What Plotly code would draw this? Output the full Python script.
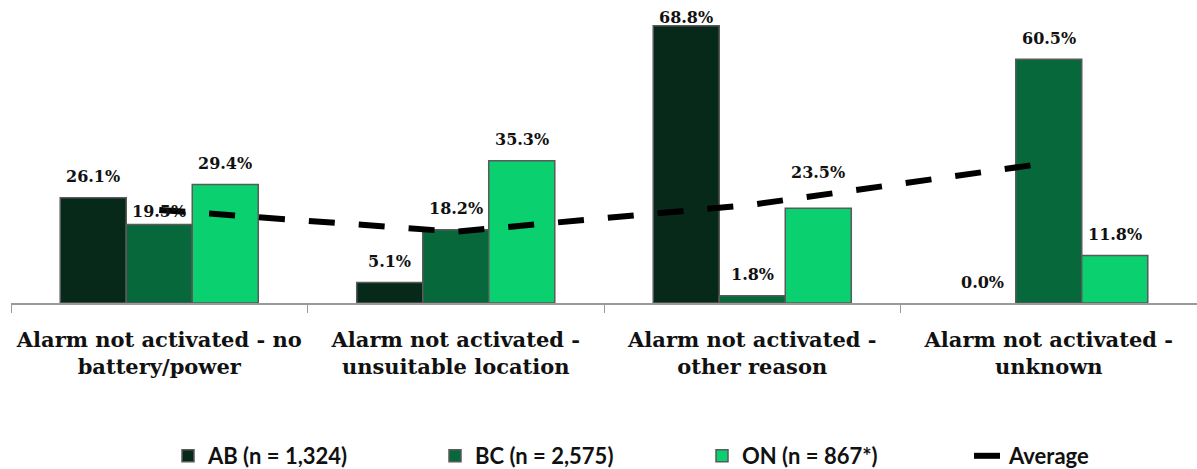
import plotly.graph_objects as go

categories = [
    "Alarm not activated - no<br>battery/power",
    "Alarm not activated -<br>unsuitable location",
    "Alarm not activated -<br>other reason",
    "Alarm not activated -<br>unknown",
]
series_names = ["AB (n = 1,324)", "BC (n = 2,575)", "ON (n = 867*)"]
ab_values = [26.1, 5.1, 68.8, 0.0]
bc_values = [19.5, 18.2, 1.8, 60.5]
on_values = [29.4, 35.3, 23.5, 11.8]
average_values = [23.1, 17.7, 24.4, 34.8]
average_name = "Average"

colors = ["#06291a", "#07683b", "#0bd070"]
x_shifts = [-66, 0, 66]
default_label_lift = 21
# manual label placement tweaks seen in the reference: (series index, category index) -> lift px
label_lift_overrides = {(1, 0): 13, (0, 2): 8, (2, 2): 36}

fig = go.Figure()
all_series = [ab_values, bc_values, on_values]
for i, (name, vals) in enumerate(zip(series_names, all_series)):
    outline_widths = [1.5 if v > 0 else 0 for v in vals]
    fig.add_trace(go.Bar(
        x=categories, y=vals, name=name,
        marker=dict(color=colors[i], line=dict(color="#5a5a5a", width=outline_widths)),
        cliponaxis=False,
    ))

fig.add_trace(go.Scatter(
    x=categories, y=average_values, name=average_name, mode="lines",
    line=dict(color="#000000", width=6, dash="26px,24px"),
))

annotations = []
for si, vals in enumerate(all_series):
    for ci, v in enumerate(vals):
        lift = label_lift_overrides.get((si, ci), default_label_lift)
        annotations.append(dict(
            x=categories[ci], y=v, xref="x", yref="y",
            text=f"{v:.1f}%", showarrow=False,
            xshift=x_shifts[si], yshift=lift, yanchor="middle",
            font=dict(family="DejaVu Serif", size=16, color="#111111", weight="bold"),
        ))

fig.update_layout(
    width=1197, height=469,
    margin=dict(l=11, r=0, t=0, b=166),
    paper_bgcolor="white", plot_bgcolor="white",
    barmode="group", bargap=0.332, bargroupgap=0,
    showlegend=True,
    legend=dict(
        orientation="h", x=168 / 1197, xanchor="left", xref="container",
        y=1 - 456 / 469, yanchor="middle", yref="container",
        font=dict(family="Lato", size=22, color="#111111", weight="bold"),
        entrywidth=222, entrywidthmode="pixels",
        bgcolor="rgba(0,0,0,0)",
    ),
    annotations=annotations,
    xaxis=dict(
        showline=True, linecolor="#9a9a9a", linewidth=1.5,
        ticks="outside", tickson="boundaries", ticklen=8, tickcolor="#9a9a9a",
        ticklabelstandoff=17, tickangle=0, automargin=False,
        tickfont=dict(family="DejaVu Serif", size=21, color="#111111", weight="bold"),
        showgrid=False,
    ),
    yaxis=dict(range=[0, 75.2], visible=False, showgrid=False, zeroline=False),
)

fig.write_html(
    "out.html",
    config={"displayModeBar": False},
    post_script="document.body.style.margin='0';document.body.style.overflow='hidden';",
)
